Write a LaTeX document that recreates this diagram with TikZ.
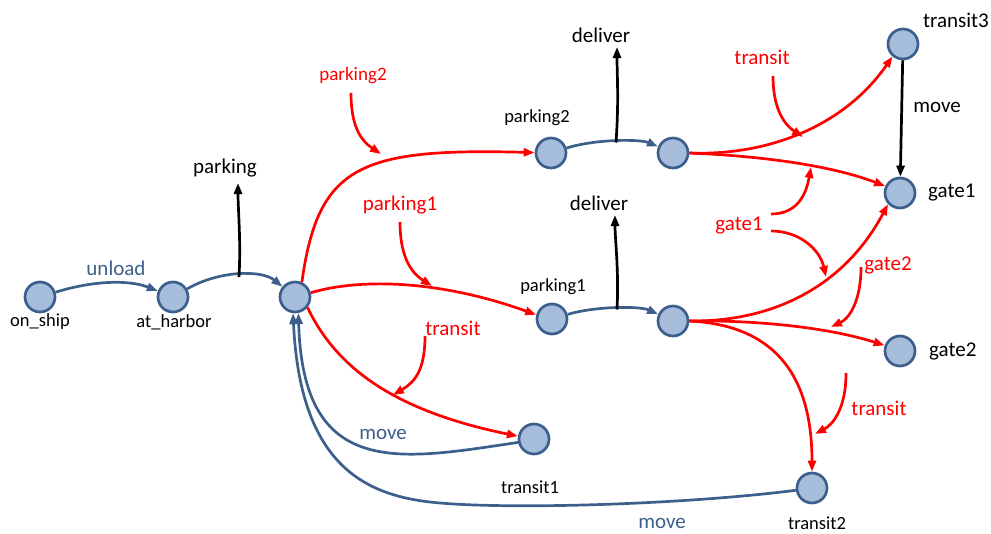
\documentclass[tikz,border=0pt]{standalone}
\usepackage{fontspec}
\setmainfont{Carlito}
\usetikzlibrary{arrows.meta}
\definecolor{stfill}{HTML}{A6BDDB}
\definecolor{stline}{HTML}{3D5F8C}
\definecolor{tred}{HTML}{FF0000}
\begin{document}
\begin{tikzpicture}[x=1pt,y=-1pt,
  st/.style={circle,draw=stline,fill=stfill,line width=2.7pt,minimum size=30pt,inner sep=0pt},
  tip/.style={-{Triangle[length=11pt,width=8pt]}},
  be/.style={tip,draw=stline,line width=2.7pt},
  re/.style={tip,draw=tred,line width=2.7pt},
  ke/.style={tip,draw=black,line width=2.7pt},
  lab/.style={font=\fontsize{21}{25}\selectfont,inner sep=0pt},
  slab/.style={font=\fontsize{18.5}{22}\selectfont,inner sep=0pt},
  rlab/.style={lab,text=tred},
  blab/.style={lab,text=stline}]
\useasboundingbox (0,0) rectangle (991,533);
% states
\node[st] (os) at (40,297) {};
\node[st] (ah) at (173,297) {};
\node[st] (hub) at (295,297) {};
\node[st] (p2a) at (551,153) {};
\node[st] (p2b) at (673,153) {};
\node[st] (p1a) at (552,319) {};
\node[st] (p1b) at (673,321) {};
\node[st] (t3) at (903,44) {};
\node[st] (g1) at (900,193) {};
\node[st] (g2) at (900,351) {};
\node[st] (t1) at (534,439) {};
\node[st] (t2) at (812,488) {};
% state labels
\node[slab] (los) at (40,322) {on\_ship};
\node[slab] (lah) at (174,322) {at\_harbor};
\node[slab] (lp2) at (537,118) {parking2};
\node[slab] (lp1) at (553,287) {parking1};
\node[lab] (lt3) at (956,20) {transit3};
\node[lab,anchor=west] (lg1) at (928,193) {gate1};
\node[lab,anchor=west] (lg2) at (929,351) {gate2};
\node[slab] (lt1) at (530,487) {transit1};
\node[slab] (lt2) at (817,523) {transit2};
% action labels
\node[blab] (lunload) at (116,268) {unload};
\node[blab] (lmove1) at (383,434) {move};
\node[blab] (lmove2) at (662,523) {move};
\node[lab] (lpark) at (225,168) {parking};
\node[lab] (ldel2) at (601,35) {deliver};
\node[lab] (ldel1) at (599,203) {deliver};
\node[lab] (lmove3) at (937,107) {move};
\node[rlab,font=\fontsize{19}{23}\selectfont] (rp2) at (353,76) {parking2};
\node[rlab] (rp1) at (400,205) {parking1};
\node[rlab] (rtr1) at (453,328) {transit};
\node[rlab] (rtr3) at (762,57) {transit};
\node[rlab] (rg1) at (739,226) {gate1};
\node[rlab] (rg2) at (888,265) {gate2};
\node[rlab] (rtr2) at (879,408) {transit};
% blue chain
\draw[be] (os) .. controls (95,280) and (130,280) .. (ah);
\draw[be] (ah) .. controls (220,270) and (262,270) .. (hub);
\draw[be] (p2a) .. controls (595,139) and (640,139) .. (p2b);
\draw[be] (p1a) .. controls (596,306) and (640,306) .. (p1b);
% black outputs
\coordinate (m1) at (239,277);
\coordinate (k1) at (238,183);
\coordinate (m2) at (616,142.5);
\coordinate (k2) at (617,47);
\coordinate (m3) at (617,309.5);
\coordinate (k3) at (615,215);
\draw[ke] (m1) .. controls (241,240) and (238,210) .. (k1);
\draw[ke] (m2) .. controls (619,100) and (617,75) .. (k2);
\draw[ke] (m3) .. controls (619,270) and (615,240) .. (k3);
\draw[ke] (t3) -- (g1);
% red transitions
\draw[re] (hub.65) .. controls (318,165) and (360,148) .. (p2a);
\draw[re] (hub.15) .. controls (360,278) and (440,280) .. (p1a.165);
\draw[re] (hub.-40) .. controls (335,365) and (390,410) .. (t1.170);
\draw[re] (p2b.east) .. controls (770,156) and (845,125) .. (t3.230);
\draw[re] (p2b.east) .. controls (760,156) and (830,165) .. (g1.155);
\draw[re] (p1b.east) .. controls (775,322) and (845,285) .. (g1.223);
\draw[re] (p1b.east) .. controls (760,320) and (830,328) .. (g2.160);
\draw[re] (p1b.east) .. controls (770,325) and (812,370) .. (t2.north);
% blue moves back
\draw[be] (t1.192) .. controls (400,460) and (303,480) .. (hub.282);
\coordinate (mv) at (430,502);
\draw[be] (t2.188) .. controls (680,505) and (500,510) .. (mv)
  .. controls (360,494) and (300,460) .. (hub.263);
% hooks
\coordinate (h1s) at (351,93);  \coordinate (h1e) at (381,154);
\coordinate (h2s) at (400,222); \coordinate (h2e) at (432,286);
\coordinate (h3s) at (425,336); \coordinate (h3e) at (393,395);
\coordinate (h4s) at (773,76);  \coordinate (h4e) at (803,137);
\coordinate (h5s) at (771,214); \coordinate (h5e) at (811,167);
\coordinate (h6s) at (771,231); \coordinate (h6e) at (826,277);
\coordinate (h7s) at (861,267); \coordinate (h7e) at (831,327);
\coordinate (h8s) at (846,373); \coordinate (h8e) at (815,434);
\draw[re] (h1s) .. controls (351,125) and (360,140) .. (h1e);
\draw[re] (h2s) .. controls (400,255) and (410,272) .. (h2e);
\draw[re] (h3s) .. controls (425,370) and (415,382) .. (h3e);
\draw[re] (h4s) .. controls (773,110) and (785,125) .. (h4e);
\draw[re] (h5s) .. controls (797,214) and (806,195) .. (h5e);
\draw[re] (h6s) .. controls (800,231) and (820,250) .. (h6e);
\draw[re] (h7s) .. controls (861,300) and (850,318) .. (h7e);
\draw[re] (h8s) .. controls (846,410) and (832,425) .. (h8e);
\end{tikzpicture}
\end{document}
